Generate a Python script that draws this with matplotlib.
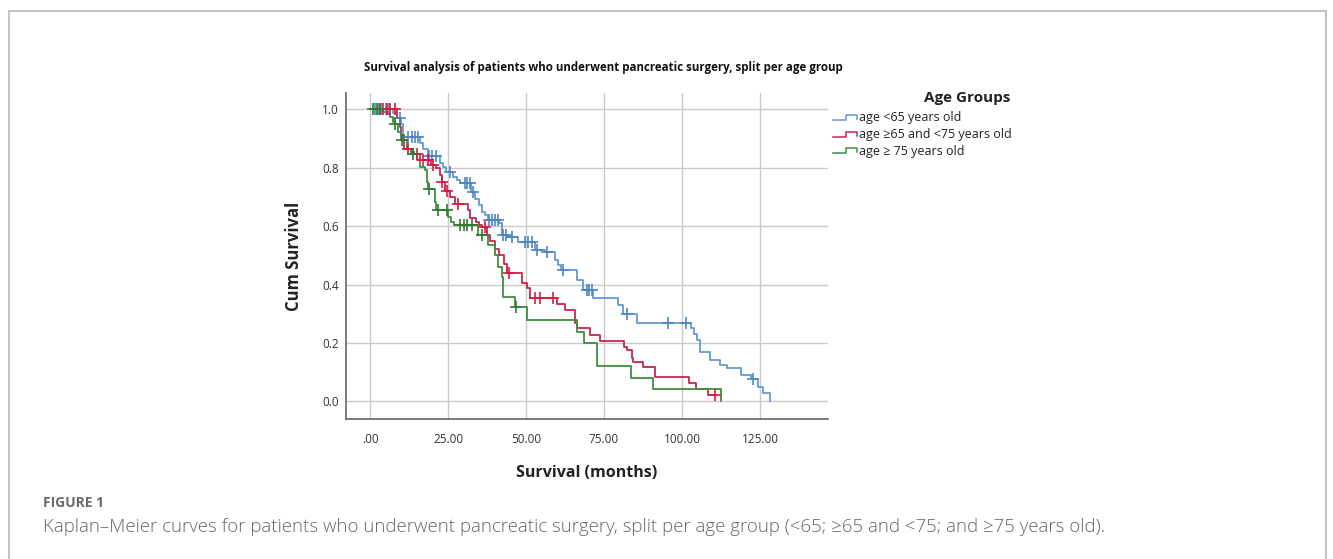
import numpy as np
import matplotlib
matplotlib.use("Agg")
import matplotlib.pyplot as plt
from matplotlib.lines import Line2D
from matplotlib.patches import Rectangle

plt.rcParams['font.family'] = ['Open Sans', 'DejaVu Sans']

# Kaplan-Meier steps (time in months, cumulative survival)
bleu_temps = [7.5, 8.5, 9.8, 10.7, 16.0, 17.0, 18.5, 22.5, 23.5, 24.5, 26.5, 28.0, 29.0, 32.5, 33.6,
              35.0, 36.0, 37.0, 37.8, 41.5, 42.2, 44.0, 47.5, 53.0, 56.0, 59.3, 60.3, 61.2, 66.2,
              68.4, 71.6, 79.5, 81.0, 85.5, 103.0, 103.8, 104.7, 105.8, 109.0, 112.2, 114.3,
              119.0, 122.0, 124.5, 126.0, 128.3]
bleu_survie = [0.985, 0.968, 0.95, 0.905, 0.883, 0.865, 0.84, 0.814, 0.803, 0.786, 0.769, 0.757,
               0.746, 0.717, 0.694, 0.672, 0.649, 0.637, 0.62, 0.609, 0.569, 0.563, 0.546, 0.518,
               0.512, 0.484, 0.467, 0.45, 0.415, 0.38, 0.355, 0.33, 0.30, 0.27, 0.25, 0.232, 0.21,
               0.17, 0.142, 0.125, 0.113, 0.09, 0.077, 0.05, 0.028, 0.0]
bleu_censures = [1.5, 2.5, 3.5, 5.0, 6.0, 9.6, 12.3, 13.3, 14.3, 15.5, 19.0, 20.0, 21.0, 25.6, 30.4,
                 31.2, 32.0, 33.1, 38.0, 39.0, 40.0, 41.0, 42.7, 43.5, 45.4, 49.7, 50.5, 51.8, 53.4,
                 56.6, 61.7, 69.5, 70.3, 71.0, 82.5, 95.6, 101.3, 122.7]
bleu_fin = 128.3

rouge_temps = [8.8, 9.5, 10.0, 11.0, 13.5, 14.0, 16.0, 19.5, 21.3, 22.5, 23.0, 24.0, 25.5, 27.2,
               31.5, 32.0, 34.0, 35.0, 36.0, 37.5, 38.5, 40.0, 41.5, 43.0, 44.0, 48.8, 50.2, 51.3,
               59.8, 62.5, 65.7, 66.2, 70.5, 73.7, 81.5, 82.3, 83.9, 84.4, 87.6, 91.3, 102.3,
               104.5, 108.4]
rouge_survie = [0.968, 0.94, 0.911, 0.865, 0.854, 0.845, 0.826, 0.808, 0.797, 0.774, 0.751, 0.72,
                0.70, 0.677, 0.655, 0.626, 0.615, 0.603, 0.597, 0.569, 0.55, 0.52, 0.50, 0.47,
                0.44, 0.404, 0.387, 0.355, 0.333, 0.313, 0.267, 0.25, 0.227, 0.207, 0.187, 0.176,
                0.147, 0.136, 0.119, 0.085, 0.062, 0.042, 0.022]
rouge_censures = [3.2, 4.3, 5.3, 6.5, 8.0, 12.3, 15.0, 17.1, 18.5, 20.3, 23.2, 24.6, 28.3, 36.9,
                  44.7, 52.9, 54.5, 58.8, 110.6]
rouge_fin = 110.8

vert_temps = [4.3, 5.3, 6.4, 7.5, 8.0, 9.0, 10.0, 11.7, 13.2, 14.9, 16.0, 17.6, 18.2, 18.7, 20.8,
              21.3, 25.0, 26.0, 27.0, 34.7, 37.9, 40.0, 41.1, 42.2, 42.7, 46.5, 50.4, 66.2, 68.6,
              72.6, 83.8, 90.6, 112.4]
vert_survie = [0.99, 0.983, 0.974, 0.957, 0.948, 0.922, 0.894, 0.865, 0.848, 0.826, 0.803, 0.79,
               0.751, 0.725, 0.683, 0.655, 0.632, 0.615, 0.603, 0.57, 0.535, 0.50, 0.46, 0.427,
               0.356, 0.324, 0.279, 0.239, 0.199, 0.121, 0.079, 0.042, 0.0]
vert_censures = [1.0, 2.1, 3.2, 8.0, 10.1, 13.9, 18.9, 21.9, 24.6, 28.8, 30.0, 31.0, 32.6, 35.8, 46.8]
vert_fin = 112.4

groupes = ["age <65 years old", "age \u226565 and <75 years old", "age \u2265 75 years old"]
couleurs = ['#639ad0', '#c4284f', '#3f8e3f']
couleurs_censure = ['#4f86c0', '#e0163f', '#2f7a2f']

x_ticks = [0, 25, 50, 75, 100, 125]
x_labels = ['.00', '25.00', '50.00', '75.00', '100.00', '125.00']
y_ticks = [0.0, 0.2, 0.4, 0.6, 0.8, 1.0]

W, H = 1333, 559


def fx(x):
    return x / W


def fy(y):
    return 1 - y / H


def tracer_courbe(ax, temps, survie, censures, fin, couleur, couleur_c):
    t = np.r_[0.0, temps]
    s = np.r_[1.0, survie]
    if fin > t[-1]:
        t = np.r_[t, fin]
        s = np.r_[s, s[-1]]
    ax.step(t, s, where='post', color=couleur, lw=1.3, zorder=3)
    c = np.array(censures)
    idx = np.searchsorted(t, c, side='right') - 1
    ax.plot(c, s[idx], ls='none', marker='+', ms=8, mew=1.2, color=couleur_c, zorder=4)


fig = plt.figure(figsize=(W / 100, H / 100), dpi=100)
ax = fig.add_axes([fx(346), fy(419), fx(828) - fx(346), fy(93) - fy(419)])

tracer_courbe(ax, bleu_temps, bleu_survie, bleu_censures, bleu_fin, couleurs[0], couleurs_censure[0])
tracer_courbe(ax, rouge_temps, rouge_survie, rouge_censures, rouge_fin, couleurs[1], couleurs_censure[1])
tracer_courbe(ax, vert_temps, vert_survie, vert_censures, vert_fin, couleurs[2], couleurs_censure[2])

ax.set_xlim(-7.7, 146.8)
ax.set_ylim(-0.06, 1.055)
ax.set_xticks(x_ticks)
ax.set_xticklabels(x_labels)
ax.set_yticks(y_ticks)
ax.set_yticklabels(['%.1f' % v for v in y_ticks])
ax.grid(True, color='#c9c9c9', lw=1.0)
ax.set_axisbelow(True)
for cote in ['top', 'right']:
    ax.spines[cote].set_visible(False)
for cote in ['left', 'bottom']:
    ax.spines[cote].set_color('#666666')
    ax.spines[cote].set_linewidth(1.2)
ax.tick_params(axis='both', length=0, labelsize=8.5, labelcolor='#333333')
ax.tick_params(axis='x', pad=10)
ax.tick_params(axis='y', pad=5)
ax.set_xlabel('Survival (months)', fontsize=11.5, fontweight='bold', color='#222222', labelpad=14)
ax.set_ylabel('Cum Survival', fontsize=12, fontweight='bold', color='#222222', labelpad=14)

fig.text(fx(364), fy(67), 'Survival analysis of patients who underwent pancreatic surgery, split per age group',
         fontsize=8.3, fontweight='bold', color='#111111', ha='left', va='center')

# legende
fig.text(fx(967), fy(98), 'Age Groups', fontsize=11, fontweight='bold', color='#222222',
         ha='center', va='center')
for i, nom in enumerate(groupes):
    y = 118 + i * 16.5
    xs = [833, 846, 846, 857, 857]
    ys = [y + 2, y + 2, y - 3, y - 3, y + 1]
    fig.add_artist(Line2D([fx(v) for v in xs], [fy(v) for v in ys], color=couleurs[i], lw=1.1,
                          transform=fig.transFigure))
    fig.text(fx(859), fy(y), nom, fontsize=9, color='#222222', ha='left', va='center')

# cadre et legende de figure
fig.add_artist(Rectangle((fx(9), fy(575)), fx(1326) - fx(9), fy(11) - fy(575), fill=False,
                         ec='#b8b8b8', lw=1.2, transform=fig.transFigure))
fig.text(fx(43), fy(503), 'FIGURE 1', fontsize=10, fontweight='bold', color='#6b6b6b',
         ha='left', va='center')
fig.text(fx(43), fy(527), 'Kaplan\u2013Meier curves for patients who underwent pancreatic surgery, split per age '
         'group (<65; \u226565 and <75; and \u226575 years old).', fontsize=13.4, color='#666666',
         fontweight='light', ha='left', va='center')

fig.savefig('out.png', dpi=100)
